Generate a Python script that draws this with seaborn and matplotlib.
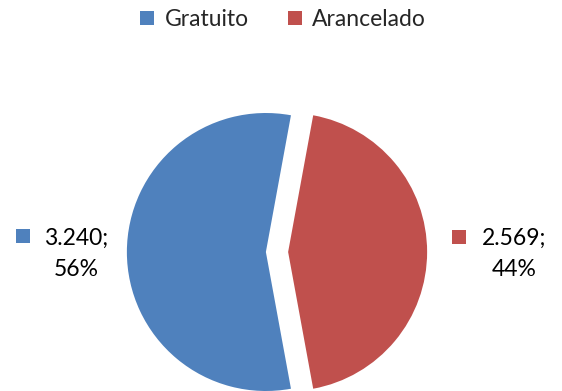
import matplotlib
matplotlib.use("Agg")
import matplotlib.pyplot as plt
import seaborn as sns
from matplotlib.lines import Line2D

categories = ["Gratuito", "Arancelado"]
values = [3240, 2569]
value_labels = ["3.240;", "2.569;"]
pct_labels = ["56%", "44%"]
colors = ["#4F81BD", "#C0504D"]

sns.set_theme(style="white")
plt.rcParams["font.family"] = ["Lato", "DejaVu Sans"]

W, H = 562, 391
fig = plt.figure(figsize=(W / 100, H / 100), dpi=100)
ax = fig.add_axes([0, 0, 1, 1])

R = 139.0
cx, cy = 277.0, 252.0
total = sum(values)
start = (values[1] / total) * 180.0  # red slice centered at 0 deg
ax.pie(values, colors=colors, startangle=start, counterclock=True,
       explode=[0.08, 0.08], radius=1.0,
       wedgeprops=dict(linewidth=0))
ax.set_xlim(-cx / R, (W - cx) / R)
ax.set_ylim(-(H - cy) / R, cy / R)
ax.set_aspect("auto")
ax.axis("off")

def px(x, y):
    return x / W, 1 - y / H

fs = 16.5
# left label
lx, ly = px(76, 238)
fig.text(lx, ly, value_labels[0], ha="center", va="center", fontsize=fs, color="black")
lx, ly = px(76, 270)
fig.text(lx, ly, pct_labels[0], ha="center", va="center", fontsize=fs, color="black")
fig.patches.append(plt.Rectangle(px(16, 243), 14 / W, 14 / H, transform=fig.transFigure,
                                 facecolor=colors[0], edgecolor="none"))
# right label
lx, ly = px(514, 238)
fig.text(lx, ly, value_labels[1], ha="center", va="center", fontsize=fs, color="black")
lx, ly = px(514, 270)
fig.text(lx, ly, pct_labels[1], ha="center", va="center", fontsize=fs, color="black")
fig.patches.append(plt.Rectangle(px(452, 244), 14 / W, 14 / H, transform=fig.transFigure,
                                 facecolor=colors[1], edgecolor="none"))

handles = [Line2D([], [], marker="s", linestyle="none", markersize=10.5,
                  markerfacecolor=c, markeredgewidth=0) for c in colors]
leg = fig.legend(handles, categories, loc="center", bbox_to_anchor=px(282, 20),
                 ncol=2, frameon=False, fontsize=fs, handletextpad=0.35,
                 columnspacing=1.6, handlelength=0.8)

fig.savefig("out.png", dpi=100)
